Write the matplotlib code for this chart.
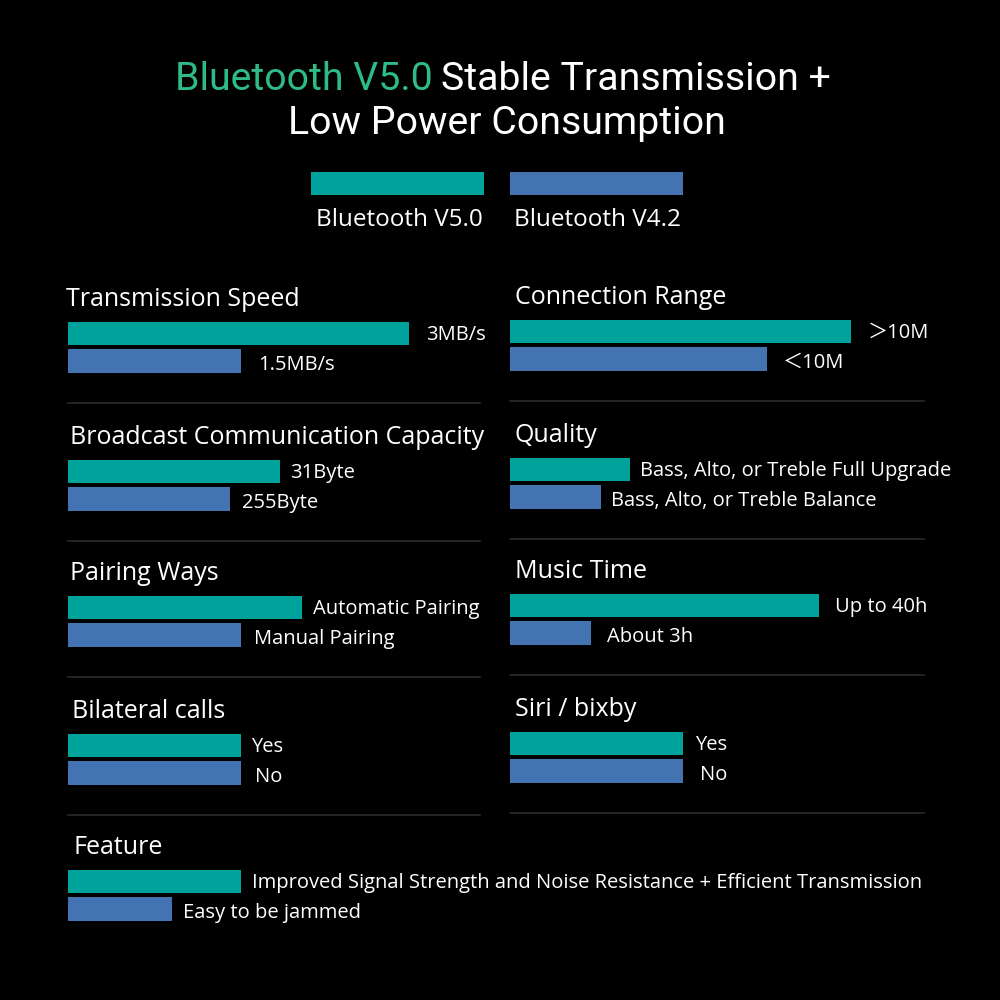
import matplotlib
matplotlib.use("Agg")
import matplotlib.pyplot as plt

# colours
GREEN_TITLE = "#2dbb86"
TEAL = "#00a39b"
BLUE = "#4373b0"
SEP = "#2b2b2b"

# data
legend_names = ["Bluetooth V5.0", "Bluetooth V4.2"]

left_titles = ["Transmission Speed", "Broadcast Communication Capacity", "Pairing Ways",
               "Bilateral calls", "Feature"]
left_v50 = [341, 212, 234, 173, 173]
left_v42 = [173, 162, 173, 173, 104]
left_v50_txt = ["3MB/s", "31Byte", "Automatic Pairing", "Yes",
                "Improved Signal Strength and Noise Resistance + Efficient Transmission"]
left_v42_txt = ["1.5MB/s", "255Byte", "Manual Pairing", "No", "Easy to be jammed"]

right_titles = ["Connection Range", "Quality", "Music Time", "Siri / bixby"]
right_v50 = [341, 120, 309, 173]
right_v42 = [257, 91, 81, 173]
right_v50_txt = ["＞10M", "Bass, Alto, or Treble Full Upgrade", "Up to 40h", "Yes"]
right_v42_txt = ["＜10M", "Bass, Alto, or Treble Balance", "About 3h", "No"]

# layout (pixel units, y down)
left_x0, right_x0 = 68, 510
left_base = [306, 444, 580, 718, 854]
right_base = [304, 442, 578, 716]
left_tx = [66, 70, 70, 72, 73]
right_tx = [515, 515, 515, 515]
left_pad = [(17, 17), (10, 12), (11, 13), (10, 14), (11, 11)]
right_pad = [(17, 16), (10, 10), (16, 16), (12, 17)]

FONT = ["Open Sans", "DejaVu Sans", "Noto Sans CJK SC"]

fig = plt.figure(figsize=(10, 10), dpi=100, facecolor="black")
ax = fig.add_axes([0, 0, 1, 1])
ax.set_facecolor("black")
ax.set_xlim(0, 1000)
ax.set_ylim(1000, 0)
ax.axis("off")

# title
tkw = dict(fontsize=28.3, family="Roboto", va="baseline")
ax.text(433, 90, "Bluetooth V5.0", color=GREEN_TITLE, ha="right", **tkw)
ax.text(441, 90, "Stable Transmission +", color="white", ha="left", **tkw)
ax.text(507, 134, "Low Power Consumption", color="white", ha="center", **tkw)

# legend swatches
sw_left = [311, 510]
for x0, c, name in zip(sw_left, [TEAL, BLUE], legend_names):
    ax.barh(183.5, 173, left=x0, height=23, color=c)
    ax.text(x0 + 88, 226, name, color="white", fontsize=17.5, family=FONT,
            ha="center", va="baseline")


def panel(x0, tx, base, title, v50, v42, t50, t42, pad, sep_to):
    ax.text(tx, base, title, color="white", fontsize=18, family=FONT, va="baseline")
    ax.barh(base + 27.5, v50, left=x0, height=23, color=TEAL)
    ax.barh(base + 55, v42, left=x0, height=24, color=BLUE)
    ax.text(x0 + v50 + pad[0], base + 34, t50, color="white", fontsize=14.5,
            family=FONT, va="baseline")
    ax.text(x0 + v42 + pad[1], base + 64, t42, color="white", fontsize=14.5,
            family=FONT, va="baseline")
    if sep_to:
        ax.plot([x0, sep_to], [base + 97, base + 97], color=SEP, lw=1.2)


for i in range(len(left_titles)):
    panel(left_x0, left_tx[i], left_base[i], left_titles[i], left_v50[i], left_v42[i],
          left_v50_txt[i], left_v42_txt[i], left_pad[i], 480 if i < 4 else None)

for i in range(len(right_titles)):
    panel(right_x0, right_tx[i], right_base[i], right_titles[i], right_v50[i], right_v42[i],
          right_v50_txt[i], right_v42_txt[i], right_pad[i], 924)

fig.savefig("out.png", dpi=100, facecolor="black")
